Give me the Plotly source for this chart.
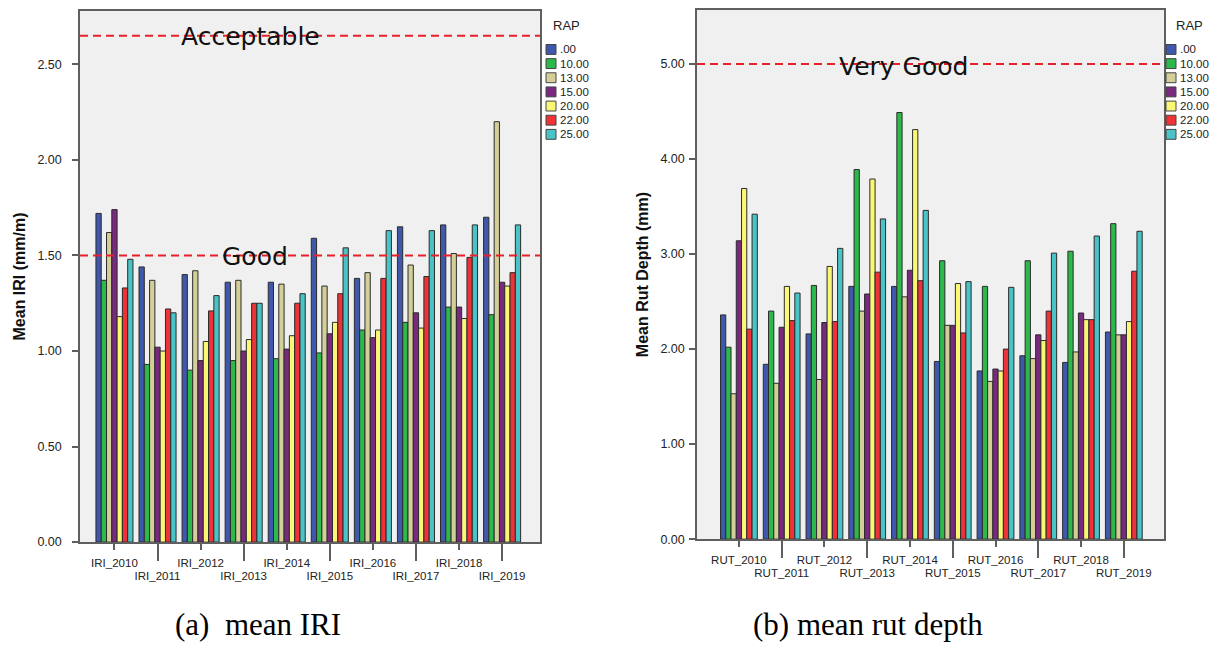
import numpy as np
import plotly.graph_objects as go

# ---------------- data ----------------
RAP_LEVELS = [".00", "10.00", "13.00", "15.00", "20.00", "22.00", "25.00"]
RAP_COLORS = ["#3F58AB", "#2DB84B", "#D4CF98", "#7A2A7E", "#FAF775", "#EE3237", "#4AC3C6"]

IRI_YEARS = ["IRI_2010", "IRI_2011", "IRI_2012", "IRI_2013", "IRI_2014",
             "IRI_2015", "IRI_2016", "IRI_2017", "IRI_2018", "IRI_2019"]
RUT_YEARS = ["RUT_2010", "RUT_2011", "RUT_2012", "RUT_2013", "RUT_2014",
             "RUT_2015", "RUT_2016", "RUT_2017", "RUT_2018", "RUT_2019"]

IRI_RAP_00 = [1.72, 1.44, 1.40, 1.36, 1.36, 1.59, 1.38, 1.65, 1.66, 1.70]
IRI_RAP_10 = [1.37, 0.93, 0.90, 0.95, 0.96, 0.99, 1.11, 1.15, 1.23, 1.19]
IRI_RAP_13 = [1.62, 1.37, 1.42, 1.37, 1.35, 1.34, 1.41, 1.45, 1.51, 2.20]
IRI_RAP_15 = [1.74, 1.02, 0.95, 1.00, 1.01, 1.09, 1.07, 1.20, 1.23, 1.36]
IRI_RAP_20 = [1.18, 1.00, 1.05, 1.06, 1.08, 1.15, 1.11, 1.12, 1.17, 1.34]
IRI_RAP_22 = [1.33, 1.22, 1.21, 1.25, 1.25, 1.30, 1.38, 1.39, 1.49, 1.41]
IRI_RAP_25 = [1.48, 1.20, 1.29, 1.25, 1.30, 1.54, 1.63, 1.63, 1.66, 1.66]

RUT_RAP_00 = [2.36, 1.84, 2.16, 2.66, 2.66, 1.87, 1.77, 1.93, 1.86, 2.18]
RUT_RAP_10 = [2.02, 2.40, 2.67, 3.89, 4.49, 2.93, 2.66, 2.93, 3.03, 3.32]
RUT_RAP_13 = [1.53, 1.64, 1.68, 2.40, 2.55, 2.25, 1.66, 1.90, 1.97, 2.15]
RUT_RAP_15 = [3.14, 2.23, 2.28, 2.58, 2.83, 2.25, 1.79, 2.15, 2.38, 2.15]
RUT_RAP_20 = [3.69, 2.66, 2.87, 3.79, 4.31, 2.69, 1.77, 2.09, 2.31, 2.29]
RUT_RAP_22 = [2.21, 2.30, 2.29, 2.81, 2.72, 2.17, 2.00, 2.40, 2.31, 2.82]
RUT_RAP_25 = [3.42, 2.59, 3.06, 3.37, 3.46, 2.71, 2.65, 3.01, 3.19, 3.24]

IRI_SERIES = [IRI_RAP_00, IRI_RAP_10, IRI_RAP_13, IRI_RAP_15, IRI_RAP_20, IRI_RAP_22, IRI_RAP_25]
RUT_SERIES = [RUT_RAP_00, RUT_RAP_10, RUT_RAP_13, RUT_RAP_15, RUT_RAP_20, RUT_RAP_22, RUT_RAP_25]

IRI_TICKS = [0.0, 0.5, 1.0, 1.5, 2.0, 2.5]
RUT_TICKS = [0.0, 1.0, 2.0, 3.0, 4.0, 5.0]

IRI_ACCEPTABLE = 2.65
IRI_GOOD = 1.50
RUT_VERY_GOOD = 5.00

# ---------------- figure ----------------
W, H = 1220, 651
SANS = "Liberation Sans, Arial, sans-serif"
LABEL_FONT = "DejaVu Sans, Verdana, sans-serif"
SERIF = "Liberation Serif, Times New Roman, serif"
FRAME = "#5f5f5f"
REDLINE = "#E8202A"


def px_x(v):
    return v / W


def px_y(v):
    return 1 - v / H


fig = go.Figure()

idx_iri = np.arange(len(IRI_YEARS))
idx_rut = np.arange(len(RUT_YEARS))

for name, color, vals in zip(RAP_LEVELS, RAP_COLORS, IRI_SERIES):
    fig.add_trace(go.Bar(x=idx_iri, y=vals, name=name, marker_color=color,
                         marker_line=dict(color="#2b2b2b", width=1),
                         xaxis="x", yaxis="y", showlegend=False))
for name, color, vals in zip(RAP_LEVELS, RAP_COLORS, RUT_SERIES):
    fig.add_trace(go.Bar(x=idx_rut, y=vals, name=name, marker_color=color,
                         marker_line=dict(color="#2b2b2b", width=1),
                         xaxis="x2", yaxis="y2", showlegend=False))

# empty helper traces so the staggered (odd-category) tick axes get drawn
fig.add_trace(go.Scatter(x=[], y=[], xaxis="x3", yaxis="y", showlegend=False, hoverinfo="skip"))
fig.add_trace(go.Scatter(x=[], y=[], xaxis="x4", yaxis="y2", showlegend=False, hoverinfo="skip"))

tickfont = dict(family=SANS, size=11.5, color="#222")
ytickfont = dict(family=SANS, size=12.5, color="#222")

left_dom_x = [px_x(80), px_x(540)]
left_dom_y = [px_y(548), px_y(11)]
right_dom_x = [px_x(697), px_x(1164)]
right_dom_y = [px_y(545), px_y(10)]

IRI_XRANGE = [-0.80, 9.88]
RUT_XRANGE = [-0.98, 9.94]

even_iri = idx_iri[::2]
odd_iri = idx_iri[1::2]
even_rut = idx_rut[::2]
odd_rut = idx_rut[1::2]

common_x = dict(showgrid=False, zeroline=False, ticks="outside", tickcolor=FRAME,
                tickwidth=1.5, tickfont=tickfont)

fig.update_layout(
    width=W, height=H, autosize=False,
    margin=dict(l=0, r=0, t=0, b=0),
    paper_bgcolor="white",
    plot_bgcolor="#F0F0F0",
    barmode="group", bargap=0.14, bargroupgap=0.0,
    font=dict(family=SANS, size=11.5, color="#222"),
    xaxis=dict(domain=left_dom_x, anchor="y", range=IRI_XRANGE,
               tickvals=list(even_iri), ticktext=[IRI_YEARS[i] for i in even_iri],
               ticklen=6, ticklabelstandoff=3,
               showline=True, mirror=True, linecolor=FRAME, linewidth=1.5,
               **common_x),
    xaxis3=dict(overlaying="x", anchor="y", range=IRI_XRANGE,
                tickvals=list(odd_iri), ticktext=[IRI_YEARS[i] for i in odd_iri],
                ticklen=18, ticklabelstandoff=5, showline=False, **common_x),
    yaxis=dict(domain=left_dom_y, anchor="x", range=[0, 2.78],
               tickvals=IRI_TICKS, tickformat=".2f", ticks="outside", ticklen=6,
               ticklabelstandoff=8,
               tickcolor=FRAME, tickwidth=1.5, tickfont=ytickfont,
               showgrid=False, zeroline=False, showline=True, mirror=True,
               linecolor=FRAME, linewidth=1.5,
               title=dict(text="<b>Mean IRI (mm/m)</b>", standoff=8,
                          font=dict(family=SANS, size=16, color="#111"))),
    xaxis2=dict(domain=right_dom_x, anchor="y2", range=RUT_XRANGE,
                tickvals=list(even_rut), ticktext=[RUT_YEARS[i] for i in even_rut],
                ticklen=6, ticklabelstandoff=3,
                showline=True, mirror=True, linecolor=FRAME, linewidth=1.5,
                **common_x),
    xaxis4=dict(overlaying="x2", anchor="y2", range=RUT_XRANGE,
                tickvals=list(odd_rut), ticktext=[RUT_YEARS[i] for i in odd_rut],
                ticklen=18, ticklabelstandoff=5, showline=False, **common_x),
    yaxis2=dict(domain=right_dom_y, anchor="x2", range=[0, 5.57],
                tickvals=RUT_TICKS, tickformat=".2f", ticks="outside", ticklen=6,
                ticklabelstandoff=2,
                tickcolor=FRAME, tickwidth=1.5, tickfont=ytickfont,
                showgrid=False, zeroline=False, showline=True, mirror=True,
                linecolor=FRAME, linewidth=1.5,
                title=dict(text="<b>Mean Rut Depth (mm)</b>", standoff=8,
                           font=dict(family=SANS, size=16, color="#111"))),
)

# threshold lines
for xref, yref, yv in [("x domain", "y", IRI_ACCEPTABLE), ("x domain", "y", IRI_GOOD),
                       ("x2 domain", "y2", RUT_VERY_GOOD)]:
    fig.add_shape(type="line", xref=xref, yref=yref, x0=0, x1=1, y0=yv, y1=yv,
                  line=dict(color=REDLINE, width=2, dash="8px,5px"), layer="above")

label_font = dict(family=LABEL_FONT, size=25, color="#111")
fig.add_annotation(text="Acceptable", xref="x domain", yref="y", x=0.37, y=IRI_ACCEPTABLE,
                   showarrow=False, font=label_font, yshift=-1)
fig.add_annotation(text="Good", xref="x domain", yref="y", x=0.38, y=IRI_GOOD,
                   showarrow=False, font=label_font, yshift=-1)
fig.add_annotation(text="Very Good", xref="x2 domain", yref="y2", x=0.443, y=RUT_VERY_GOOD,
                   showarrow=False, font=label_font, yshift=-2)


# legends (title + swatches)
def add_legend(swatch_left_px, title_center_px):
    fig.add_annotation(text="RAP", xref="paper", yref="paper",
                       x=px_x(title_center_px), y=px_y(26), xanchor="center", yanchor="middle",
                       showarrow=False, font=dict(family=SANS, size=13, color="#222"))
    for i, (name, color) in enumerate(zip(RAP_LEVELS, RAP_COLORS)):
        yc = 50 + 14.3 * i
        fig.add_shape(type="rect", xref="paper", yref="paper",
                      x0=px_x(swatch_left_px), x1=px_x(swatch_left_px + 10),
                      y0=px_y(yc - 5), y1=px_y(yc + 5),
                      fillcolor=color, line=dict(color="#444", width=1))
        fig.add_annotation(text=name, xref="paper", yref="paper",
                           x=px_x(swatch_left_px + 12), y=px_y(yc), xanchor="left",
                           yanchor="middle", showarrow=False,
                           font=dict(family=SANS, size=11.5, color="#222"))


add_legend(546, 566)
add_legend(1166, 1189)

# captions
cap_font = dict(family=SERIF, size=31, color="#000")
fig.add_annotation(text="(a)  mean IRI", xref="paper", yref="paper", x=px_x(258), y=px_y(631),
                   xanchor="center", yanchor="middle", showarrow=False, font=cap_font)
fig.add_annotation(text="(b) mean rut depth", xref="paper", yref="paper", x=px_x(868), y=px_y(631),
                   xanchor="center", yanchor="middle", showarrow=False, font=cap_font)

fig.write_html("out.html")
